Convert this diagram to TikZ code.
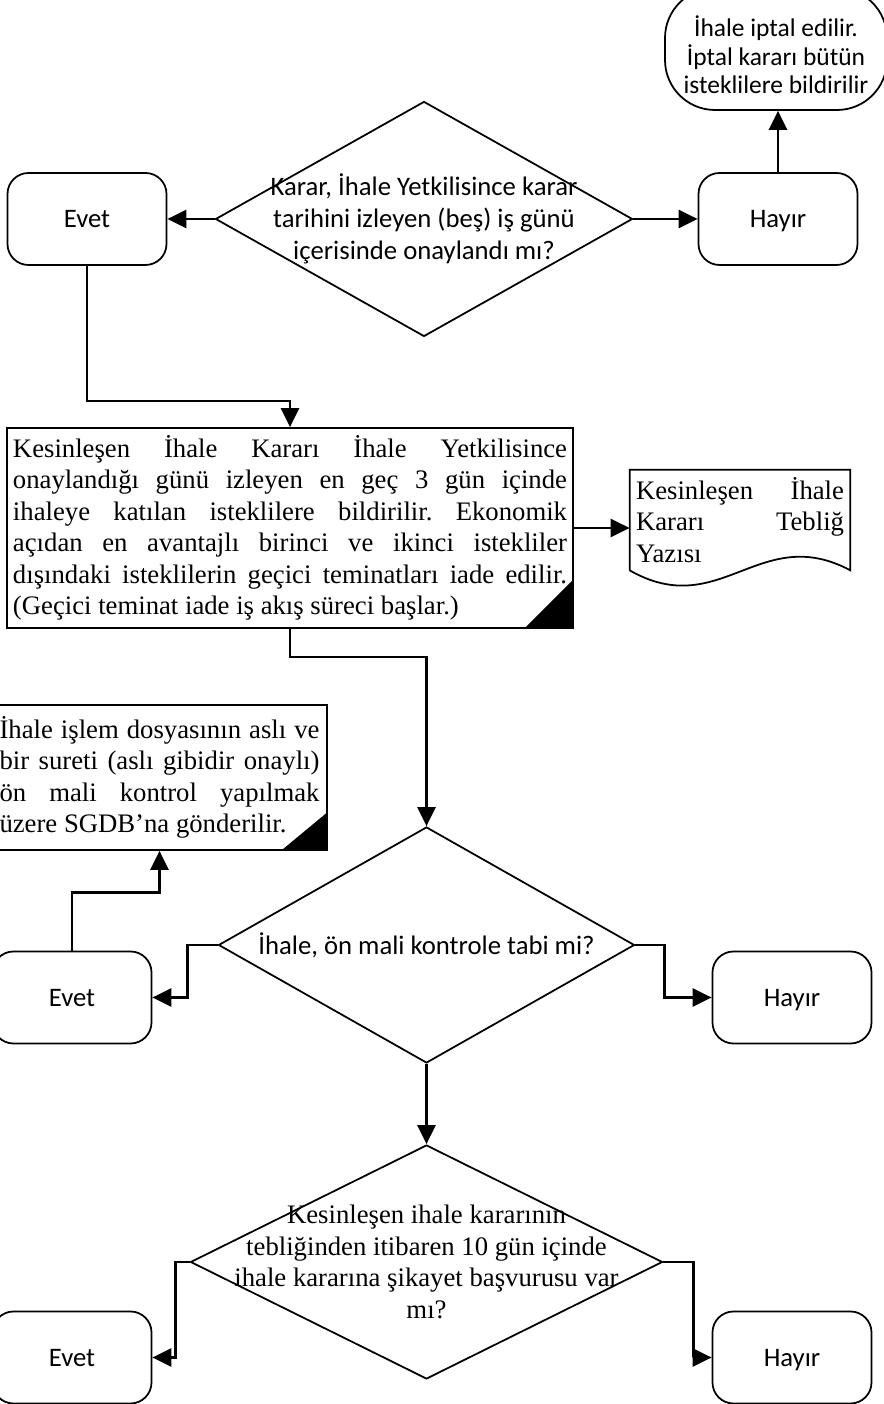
\documentclass[tikz,border=0pt]{standalone}
\usepackage{fontspec}
\setmainfont{Liberation Serif}
\newfontfamily\calibri{Carlito}
\usetikzlibrary{shapes.geometric,arrows.meta}
\frenchspacing

\begin{document}
\begin{tikzpicture}[
    >={Triangle[length=0.38cm,width=0.36cm]},
    every node/.style={font=\fontsize{15.2}{17.9}\selectfont},
    sans/.style={font=\calibri\fontsize{15.2}{18.2}\selectfont},
    answer/.style={draw, sans, line width=1pt, rounded corners=0.42cm,
      minimum width=3.18cm, minimum height=1.84cm, text height=9.8pt, text depth=0pt},
    decision/.style={draw, diamond, line width=1pt, inner sep=0pt},
    process/.style={draw, line width=1pt, inner sep=0.12cm, align=justify},
    flow/.style={->, line width=1.4pt},
  ]

    %% Ihale karari akis semasi
    \useasboundingbox (0,0) rectangle (17.68,28.08);

    % Ilk karar
    \node[decision, minimum width=8.34cm, minimum height=4.7cm] (karar) at (8.48,23.70) {};
    \node[sans, align=center] (karartxt) at (karar)
      {Karar, İhale Yetkilisince karar\\tarihini izleyen (beş) iş günü\\içerisinde onaylandı mı?};
    \node[answer] (evet1) at (1.74,23.70) {Evet};
    \node[answer] (hayir1) at (15.56,23.70) {Hayır};
    \node[draw, line width=1pt, rounded corners=1cm, minimum width=4.44cm, minimum height=2.44cm]
      (iptal) at (15.52,27.10) {};
    \node[align=center, font=\calibri\fontsize{14.5}{16.2}\selectfont] (iptaltxt)
      at ([yshift=-0.12cm]iptal.center) {İhale iptal edilir.\\İptal kararı bütün\\isteklilere bildirilir};

    \draw[flow] (karar.west) -- (evet1.east);
    \draw[flow] (karar.east) -- (hayir1.west);
    \draw[flow] (hayir1.north) -- (hayir1.north |- iptal.south);

    % Kesinlesen ihale karari
    \node[process, minimum width=11.32cm, minimum height=4cm, text width=11.08cm] (islem) at (5.80,17.52)
      {Kesinleşen İhale Kararı İhale Yetkilisince\linebreak
       onaylandığı günü izleyen en geç 3 gün içinde\linebreak
       ihaleye katılan isteklilere bildirilir. Ekonomik\linebreak
       açıdan en avantajlı birinci ve ikinci istekliler\linebreak
       dışındaki isteklilerin geçici teminatları iade edilir.\linebreak
       (Geçici teminat iade iş akış süreci başlar.)};
    \fill (islem.south east) -- ++(-1,0) -- ++(1,1) -- cycle;

    \draw[flow] (evet1.south) -- ++(0,-2.7) -| (islem.north);

    % Teblig yazisi
    \node[minimum width=4.4cm, minimum height=2cm, inner sep=0.1cm, text width=4.16cm, align=justify]
      (teblig) at (14.80,17.68) {Kesinleşen İhale\linebreak Kararı Tebliğ\linebreak Yazısı};
    \draw[line width=1pt] (teblig.south west) -- (teblig.north west) -- (teblig.north east)
      -- (teblig.south east) .. controls (15.20,17.64) and (14.40,15.64) .. (teblig.south west);

    \draw[flow] (islem.east) -- (islem.east -| teblig.west);

    % On mali kontrol
    \node[decision, minimum width=8.32cm, minimum height=4.72cm] (kontrol) at (8.53,9.18) {};
    \node[sans] (kontroltxt) at (kontrol) {İhale, ön mali kontrole tabi mi?};
    \node[answer] (evet2) at (1.44,8.13) {Evet};
    \node[answer] (hayir2) at (15.84,8.13) {Hayır};
    \node[process, minimum width=6.7cm, minimum height=2.9cm, text width=6.4cm] (sgdb) at (3.19,12.53)
      {İhale işlem dosyasının aslı ve\linebreak
       bir sureti (aslı gibidir onaylı)\linebreak
       ön mali kontrol yapılmak\linebreak
       üzere SGDB’na gönderilir.};
    \fill (sgdb.south east) -- ++(-0.94,0) -- ++(0.94,0.78) -- cycle;

    \draw[flow] (islem.south) -- ++(0,-0.56) -| (kontrol.north);
    \draw[flow] (kontrol.west) -- ++(-0.6,0) |- (evet2.east);
    \draw[flow] (kontrol.east) -- ++(0.58,0) |- (hayir2.west);
    \draw[flow] (evet2.north) -- ++(0,1.16) -| (sgdb.south);

    % Sikayet basvurusu
    \node[decision, minimum width=9.44cm, minimum height=4.68cm] (sikayet) at (8.53,2.84) {};
    \node[align=center] (sikayettxt) at (sikayet)
      {Kesinleşen ihale kararının\\tebliğinden itibaren 10 gün içinde\\ihale kararına şikayet başvurusu var\\mı?};
    \node[answer] (evet3) at (1.44,0.93) {Evet};
    \node[answer] (hayir3) at (15.84,0.93) {Hayır};

    \draw[flow] (kontrol.south) -- (sikayet.north);
    \draw[flow] (sikayet.west) -- ++(-0.28,0) |- (evet3.east);
    \draw[flow] (sikayet.east) -- ++(0.6,0) |- (hayir3.west);

\end{tikzpicture}
\end{document}
